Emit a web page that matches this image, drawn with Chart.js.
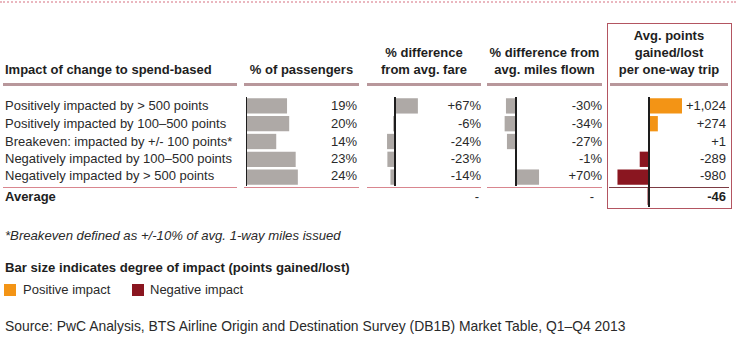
<!DOCTYPE html>
<html>
<head>
<meta charset="utf-8">
<script src="https://cdn.jsdelivr.net/npm/chart.js@4/dist/chart.umd.min.js"></script>
<style>
  html, body { margin: 0; padding: 0; background: #fff; }
  #wrap { position: relative; width: 736px; height: 358px; overflow: hidden; font-family: "Liberation Sans", Arial, sans-serif; color: #2a2a2a; font-size: 13px; }
  .t { position: absolute; white-space: nowrap; line-height: 16px; }
  .b { font-weight: bold; color: #1e1e1e; }
  .r { text-align: right; }
  .c { text-align: center; }
  .hl { position: absolute; height: 3px; background: #b8979b; }
  canvas { position: absolute; }
</style>
</head>
<body>
<div id="wrap"></div>
<script>
// ---------- data ----------
const categories = [
  "Positively impacted by > 500 points",
  "Positively impacted by 100\u2013500 points",
  "Breakeven: impacted by +/- 100 points*",
  "Negatively impacted by 100\u2013500 points",
  "Negatively impacted by > 500 points"
];
const passengersPct = [19, 20, 14, 23, 24];
const fareDiffPct = [67, -6, -24, -23, -14];
const milesDiffPct = [-30, -34, -27, -1, 70];
const pointsAvg = [1024, 274, 1, -289, -980];
const averageLabel = "Average";
const averagePoints = -46;
const headers = [
  ["Impact of change to spend-based"],
  ["% of passengers"],
  ["% difference", "from avg. fare"],
  ["% difference from", "avg. miles flown"],
  ["Avg. points", "gained/lost", "per one-way trip"]
];
const footnote = "*Breakeven defined as +/-10% of avg. 1-way miles issued";
const legendTitle = "Bar size indicates degree of impact (points gained/lost)";
const legendItems = ["Positive impact", "Negative impact"];
const sourceText = "Source: PwC Analysis, BTS Airline Origin and Destination Survey (DB1B) Market Table, Q1\u2013Q4 2013";

const GRAY = "#aea9a6", ORANGE = "#f39415", DARKRED = "#8a1620";

// ---------- layout helpers ----------
const wrap = document.getElementById("wrap");
function txt(s, x, yc, cls, w) {
  const d = document.createElement("div");
  d.className = "t " + (cls || "");
  d.textContent = s;
  d.style.top = (yc - 8) + "px";
  if (cls && cls.includes("r")) { d.style.right = (736 - x) + "px"; }
  else if (cls && cls.includes("c")) { d.style.left = (x - w / 2) + "px"; d.style.width = w + "px"; }
  else d.style.left = x + "px";
  wrap.appendChild(d);
  return d;
}
function box(x, y, w, h, css) {
  const d = document.createElement("div");
  d.style.position = "absolute";
  d.style.left = x + "px"; d.style.top = y + "px";
  d.style.width = w + "px"; d.style.height = h + "px";
  Object.assign(d.style, css || {});
  wrap.appendChild(d);
  return d;
}

// top dotted rule
box(0, 1, 736, 0, { borderTop: "2px dotted #eab7bf" });
// highlighted box for points column
box(607, 23, 123, 184, { border: "1.5px solid #b35561" });

// headers
const segs = [[3, 237], [244, 359], [367, 481], [487, 602], [610, 728]];
txt(headers[0][0], 5, 70, "b");
for (let i = 1; i < headers.length; i++) {
  const lines = headers[i];
  const cx = (segs[i][0] + segs[i][1]) / 2;
  lines.forEach((ln, k) => txt(ln, cx, 70 - (lines.length - 1 - k) * 17, "b c", 140));
}
segs.forEach(s => { const d = box(s[0], 83, s[1] - s[0], 3, {}); d.className = "hl"; });

// row labels
const rowY = [106, 124, 141.5, 159, 176];
categories.forEach((c, i) => txt(c, 5, rowY[i]));
txt(averageLabel, 5, 197, "b");

// row separator
box(3, 187, 234, 1, { background: "#d9868f" });
box(244, 187, 115, 1, { background: "#d9868f" });
box(367, 187, 114, 1, { background: "#d9868f" });
box(487, 187, 115, 1, { background: "#d9868f" });
box(609, 187, 120, 1, { background: "#7c3b43" });

// value labels
const sign = v => (v > 0 ? "+" : "") + v.toLocaleString("en-US");
passengersPct.forEach((v, i) => txt(v + "%", 357, rowY[i], "r"));
fareDiffPct.forEach((v, i) => txt(sign(v) + "%", 481, rowY[i], "r"));
milesDiffPct.forEach((v, i) => txt(sign(v) + "%", 602, rowY[i], "r"));
pointsAvg.forEach((v, i) => txt(sign(v), 726, rowY[i], "r"));
txt("-", 479, 197, "r");
txt("-", 594, 197, "r");
txt(sign(averagePoints), 726, 197, "b r");

// footer
const fn = txt(footnote, 5, 236); fn.style.fontStyle = "italic"; fn.style.fontSize = "13.15px";
const lt = txt(legendTitle, 5, 268, "b"); lt.style.fontSize = "13.15px";
box(4, 284, 12, 12, { background: ORANGE });
txt(legendItems[0], 23, 290);
box(132, 284, 12, 12, { background: DARKRED });
txt(legendItems[1], 150, 290);
const src = txt(sourceText, 5, 326); src.style.fontSize = "13.9px";

// ---------- charts ----------
const zeroLine = {
  id: "zeroLine",
  afterDatasetsDraw(chart) {
    const x = Math.round(chart.scales.x.getPixelForValue(0));
    const ctx = chart.ctx;
    ctx.save();
    ctx.fillStyle = "#1d1d1d";
    ctx.fillRect(x - 1, 0, 2, chart.height);
    ctx.restore();
  }
};
function mini(left, top, width, height, labels, values, colors, min, max, catPct) {
  const cv = document.createElement("canvas");
  cv.width = width; cv.height = height;
  cv.style.left = left + "px"; cv.style.top = top + "px";
  cv.style.width = width + "px"; cv.style.height = height + "px";
  wrap.appendChild(cv);
  return new Chart(cv, {
    type: "bar",
    data: { labels, datasets: [{ data: values, backgroundColor: colors, borderWidth: 0, barPercentage: 1, categoryPercentage: catPct }] },
    options: {
      indexAxis: "y", responsive: false, animation: false, devicePixelRatio: 1,
      layout: { padding: 0 },
      plugins: { legend: { display: false }, tooltip: { enabled: false } },
      scales: {
        x: { display: false, min, max },
        y: { display: false }
      }
    },
    plugins: [zeroLine]
  });
}
const pc = v => (v >= 0 ? ORANGE : DARKRED);
mini(246, 97, 108, 89, categories, passengersPct, GRAY, 0, 50, 0.86);
mini(385, 97, 40, 89, categories, fareDiffPct, GRAY, -30, 88, 0.86);
mini(500, 97, 45, 89, categories, milesDiffPct, GRAY, -48, 88, 0.86);
mini(612, 97, 80, 89, categories, pointsAvg, pointsAvg.map(pc), -1150, 1335, 0.86);
mini(612, 186, 80, 21, [averageLabel], [averagePoints], [pc(averagePoints)], -1150, 1335, 0.8);
</script>
</body>
</html>
